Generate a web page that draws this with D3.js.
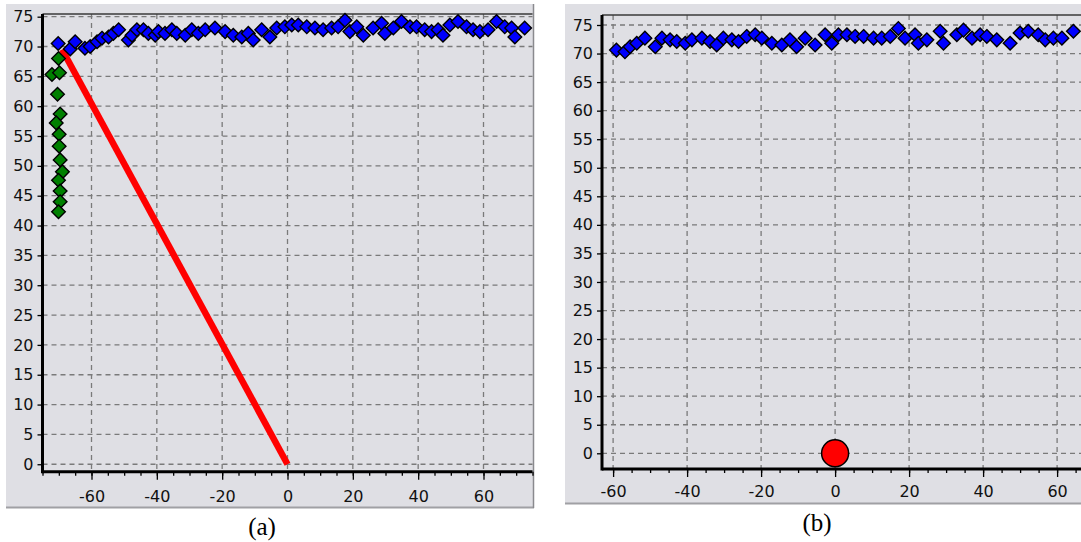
<!DOCTYPE html>
<html>
<head>
<meta charset="utf-8">
<script src="https://cdn.jsdelivr.net/npm/d3@7"></script>
<style>
  html, body { margin: 0; padding: 0; background: #ffffff; }
  svg { display: block; }
</style>
</head>
<body>
<svg id="chart" width="1081" height="542"></svg>
<script>
// ---- data ----
const xTickValues = [-60, -40, -20, 0, 20, 40, 60];
const yTickValues = [0, 5, 10, 15, 20, 25, 30, 35, 40, 45, 50, 55, 60, 65, 70, 75];

// panel (a): measured wall points (blue), early points (green), heading line (red)
const blueAx = [-70.2, -66.5, -65.0, -62.0, -60.4, -58.3, -56.8, -54.8, -53.3, -51.7, -48.7, -47.6, -46.1, -44.1, -42.6,
  -40.5, -39.5, -37.5, -35.4, -33.9, -31.3, -29.3, -27.3, -25.2, -22.2, -19.1, -16.6, -14.0, -12.0, -10.5, -7.9,
  -5.4, -3.3, -0.8, 1.3, 3.3, 5.9, 8.4, 10.9, 13.5, 15.5, 17.6, 19.1, 21.2, 23.2, 26.2, 28.8, 29.8, 32.4, 34.9,
  37.5, 39.5, 42.0, 44.1, 46.1, 47.6, 49.7, 52.2, 54.8, 56.8, 58.9, 61.4, 64.0, 66.5, 68.6, 69.6, 72.6];
const blueAy = [70.5, 69.6, 70.8, 69.7, 70.0, 70.8, 71.4, 71.6, 72.2, 72.8, 71.1, 71.9, 72.8, 72.8, 72.2,
  71.9, 72.5, 72.2, 72.8, 72.2, 71.9, 72.8, 72.2, 72.8, 73.1, 72.5, 71.9, 71.6, 72.2, 71.1, 72.8,
  71.6, 73.1, 73.3, 73.6, 73.6, 73.3, 73.1, 72.8, 73.1, 73.3, 74.4, 72.5, 73.3, 71.9, 73.1, 73.9, 72.2, 73.1, 74.2,
  73.3, 73.3, 72.8, 72.5, 72.8, 71.9, 73.6, 74.2, 73.3, 72.8, 72.5, 72.8, 74.2, 73.3, 73.1, 71.6, 73.1];
const greenAx = [-70.1, -72.1, -69.8, -70.4, -69.6, -70.8, -69.9, -69.9, -69.6, -68.9, -70.1, -69.6, -69.6, -70.1];
const greenAy = [68.0, 65.3, 65.6, 62.0, 58.7, 57.2, 55.3, 53.3, 51.0, 49.0, 47.6, 45.8, 44.0, 42.3];
const redLineAx = [-69.0, 0];
const redLineAy = [69.5, 0];

// panel (b): measured wall points (blue), robot position (red)
const blueBx = [-59.1, -56.8, -55.4, -53.6, -51.4, -48.6, -46.8, -44.6, -42.8, -40.5, -38.7, -36.0, -33.8, -32.0,
  -30.2, -27.9, -26.1, -23.9, -21.6, -19.8, -17.1, -14.4, -12.2, -10.4, -8.1, -5.4, -2.7, -0.9, 0.9, 3.2, 5.4,
  7.7, 10.4, 12.6, 14.9, 17.1, 18.9, 21.6, 22.5, 24.8, 28.4, 29.3, 32.9, 34.7, 37.0, 39.2, 41.0, 43.7, 47.3,
  50.0, 52.2, 54.9, 56.8, 59.0, 61.3, 64.4];
const blueBy = [70.6, 70.3, 71.2, 71.8, 72.7, 71.2, 72.7, 72.4, 72.1, 71.8, 72.4, 72.7, 72.1, 71.5,
  72.7, 72.4, 72.1, 73.0, 73.3, 72.7, 71.8, 71.5, 72.4, 71.2, 72.7, 71.5, 73.3, 71.8, 73.3, 73.3, 73.0,
  73.0, 72.7, 72.7, 73.0, 74.4, 72.7, 73.3, 71.8, 72.4, 73.9, 71.8, 73.3, 74.1, 72.7, 73.3, 73.0, 72.4, 71.8,
  73.6, 73.9, 73.3, 72.4, 72.7, 72.7, 73.9];
const redDotBx = [0];
const redDotBy = [0];

// ---- drawing ----
const svg = d3.select("#chart");
const BG = "#dfdfe4";
const GRID = "#7a7a7a";
const LABEL_FONT = "DejaVu Sans";

function diamond(r) {
  return `M0,${-r}L${r},0L0,${r}L${-r},0Z`;
}

function drawPanel(cfg) {
  const g = svg.append("g");
  // panel background and its border
  g.append("rect").attr("x", cfg.box[0]).attr("y", cfg.box[1])
    .attr("width", cfg.box[2] - cfg.box[0]).attr("height", cfg.box[3] - cfg.box[1])
    .attr("fill", BG);
  g.append("line").attr("x1", cfg.box[0]).attr("x2", cfg.box[2])
    .attr("y1", cfg.box[3] - 0.5).attr("y2", cfg.box[3] - 0.5)
    .attr("stroke", "#a0a0a4").attr("stroke-width", 2);
  if (cfg.rightBorder) {
    g.append("line").attr("x1", cfg.box[2] - 0.5).attr("x2", cfg.box[2] - 0.5)
      .attr("y1", cfg.box[1]).attr("y2", cfg.box[3])
      .attr("stroke", "#8a8a8e").attr("stroke-width", 1.5);
  }

  const x = cfg.x, y = cfg.y;
  const [x0, x1] = x.range();
  const [yb, yt] = y.range();

  // dashed grid
  g.append("g").selectAll("line").data(xTickValues).join("line")
    .attr("x1", d => x(d)).attr("x2", d => x(d)).attr("y1", yt).attr("y2", yb)
    .attr("stroke", GRID).attr("stroke-width", 1.3).attr("stroke-dasharray", "5,4");
  g.append("g").selectAll("line").data(yTickValues).join("line")
    .attr("x1", x0).attr("x2", x1).attr("y1", d => y(d)).attr("y2", d => y(d))
    .attr("stroke", GRID).attr("stroke-width", 1.3).attr("stroke-dasharray", "5,4");

  // top frame line
  g.append("line").attr("x1", x0).attr("x2", x1).attr("y1", yt).attr("y2", yt)
    .attr("stroke", "#3a3a3a").attr("stroke-width", 1.5);

  // x axis: minor ticks every 5, labelled majors every 20
  const minor = d3.range(Math.ceil(x.domain()[0] / 5) * 5, x.domain()[1] + 0.01, 5);
  const xAxis = g.append("g").attr("transform", `translate(0,${yb})`)
    .call(d3.axisBottom(x).tickValues(minor).tickSize(4).tickFormat(""));
  xAxis.select(".domain").remove();
  xAxis.selectAll("line").attr("stroke", "#000").attr("stroke-width", 1.3);
  const xMajor = g.append("g").attr("transform", `translate(0,${yb})`)
    .call(d3.axisBottom(x).tickValues(xTickValues).tickSize(8).tickPadding(cfg.xPad)
      .tickFormat(d => String(d)));
  xMajor.select(".domain").remove();
  xMajor.selectAll("line").attr("stroke", "#000").attr("stroke-width", 1.3);
  xMajor.selectAll("text").attr("font-family", LABEL_FONT).attr("font-size", 16)
    .attr("fill", "#111");

  // y axis
  const yAxis = g.append("g").attr("transform", `translate(${x0},0)`)
    .call(d3.axisLeft(y).tickValues(yTickValues).tickSize(5).tickPadding(4)
      .tickFormat(d => String(d)));
  yAxis.select(".domain").remove();
  yAxis.selectAll("line").attr("stroke", "#000").attr("stroke-width", 1.3);
  yAxis.selectAll("text").attr("font-family", LABEL_FONT).attr("font-size", 16)
    .attr("fill", "#111");

  // solid axis lines
  g.append("line").attr("x1", x0).attr("x2", x1).attr("y1", yb).attr("y2", yb)
    .attr("stroke", "#000").attr("stroke-width", 3);
  g.append("line").attr("x1", x0).attr("x2", x0).attr("y1", yt).attr("y2", yb + 1.5)
    .attr("stroke", "#000").attr("stroke-width", 3);

  // caption
  svg.append("text").attr("x", cfg.caption[0]).attr("y", cfg.caption[1])
    .attr("text-anchor", "middle").attr("font-family", "Liberation Serif")
    .attr("font-size", 25).attr("fill", "#000").text(cfg.label);

  return g;
}

const R = 6.8;

// panel (a)
const xA = d3.scaleLinear().domain([-75, 75]).range([42.5, 532.5]);
const yA = d3.scaleLinear().domain([-1.25, 75.45]).range([471.7, 14]);
const gA = drawPanel({ x: xA, y: yA, box: [6, 4, 534, 508], rightBorder: true, xPad: 11,
  caption: [262, 535], label: "(a)" });

gA.append("line")
  .attr("x1", xA(redLineAx[0])).attr("y1", yA(redLineAy[0]))
  .attr("x2", xA(redLineAx[1])).attr("y2", yA(redLineAy[1]))
  .attr("stroke", "#ff0000").attr("stroke-width", 6.5);

gA.append("g").selectAll("path").data(d3.range(greenAx.length)).join("path")
  .attr("transform", i => `translate(${xA(greenAx[i])},${yA(greenAy[i])})`)
  .attr("d", diamond(R)).attr("fill", "#008000").attr("stroke", "#000").attr("stroke-width", 1.4);

gA.append("g").selectAll("path").data(d3.range(blueAx.length)).join("path")
  .attr("transform", i => `translate(${xA(blueAx[i])},${yA(blueAy[i])})`)
  .attr("d", diamond(R)).attr("fill", "#0000ff").attr("stroke", "#000").attr("stroke-width", 1.4);

// panel (b)
const xB = d3.scaleLinear().domain([-63, 67]).range([602, 1083]);
const yB = d3.scaleLinear().domain([-2.75, 76.75]).range([469, 15]);
const gB = drawPanel({ x: xB, y: yB, box: [565, 4, 1081, 504], rightBorder: false, xPad: 9,
  caption: [817, 531], label: "(b)" });

gB.append("g").selectAll("path").data(d3.range(blueBx.length)).join("path")
  .attr("transform", i => `translate(${xB(blueBx[i])},${yB(blueBy[i])})`)
  .attr("d", diamond(R)).attr("fill", "#0000ff").attr("stroke", "#000").attr("stroke-width", 1.4);

gB.append("g").selectAll("circle").data(d3.range(redDotBx.length)).join("circle")
  .attr("cx", i => xB(redDotBx[i])).attr("cy", i => yB(redDotBy[i]))
  .attr("r", 13.5).attr("fill", "#ff0000").attr("stroke", "#000").attr("stroke-width", 1.5);
</script>
</body>
</html>
